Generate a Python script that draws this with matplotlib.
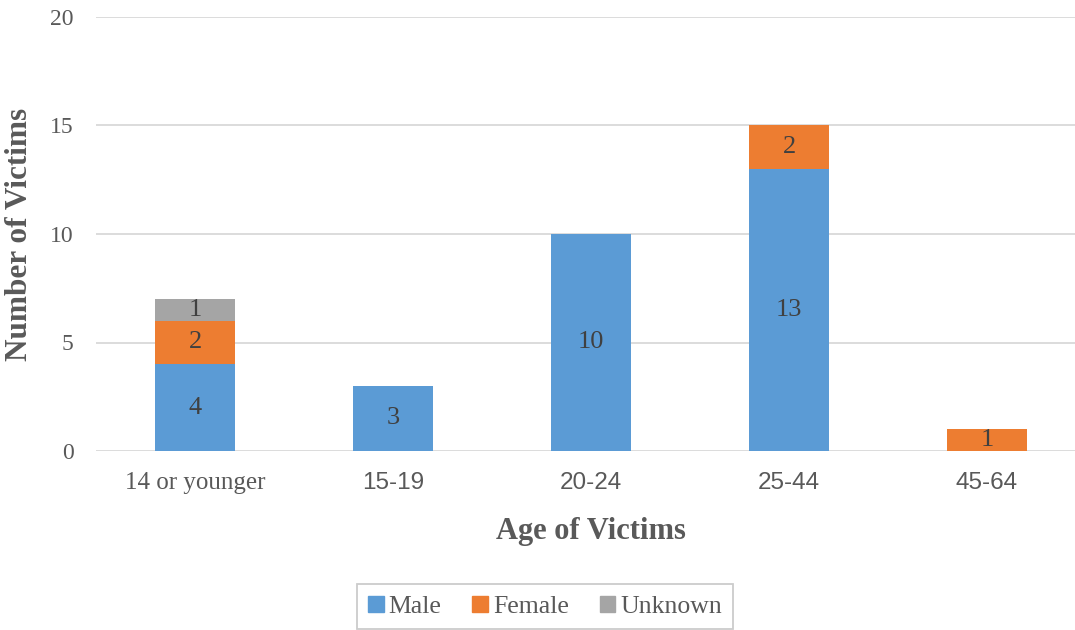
import numpy as np
import matplotlib.pyplot as plt
from matplotlib.patches import Patch

categories = ["14 or younger", "15-19", "20-24", "25-44", "45-64"]
male = [4, 3, 10, 13, 0]
female = [2, 0, 0, 2, 1]
unknown = [1, 0, 0, 0, 0]

series = [("Male", male, "#5B9BD5"), ("Female", female, "#ED7D31"), ("Unknown", unknown, "#A5A5A5")]
text_color = "#595959"
serif = "Liberation Serif"
sans = "Liberation Sans"

fig = plt.figure(figsize=(10.75, 6.3), dpi=100)
ax = fig.add_axes([96 / 1075, 1 - 451 / 630, 990 / 1075, 434 / 630])

x = np.arange(len(categories))
bottom = np.zeros(len(categories))
for name, vals, color in series:
    vals = np.array(vals, dtype=float)
    bars = ax.bar(x, vals, 0.405, bottom=bottom, color=color, label=name, zorder=3)
    for rect, v, b in zip(bars, vals, bottom):
        if v > 0:
            ax.text(rect.get_x() + rect.get_width() / 2, b + v / 2, f"{int(v)}",
                    ha="center", va="center", fontsize=19, color="#404040",
                    family=serif, zorder=4)
    bottom += vals

ax.set_xlim(-0.5, len(categories) - 0.5)
ax.set_ylim(0, 20)
ax.set_yticks([0, 5, 10, 15, 20])
ax.yaxis.grid(True, color="#D9D9D9", linewidth=1.3, zorder=0)
for s in ax.spines.values():
    s.set_visible(False)
ax.tick_params(axis="both", length=0, colors=text_color)
ax.tick_params(axis="y", pad=16, labelsize=17)
ax.tick_params(axis="x", pad=15, labelsize=17.5)
for lab in ax.get_yticklabels():
    lab.set_family(serif)
ax.set_xticks(x)
ax.set_xticklabels(categories)
for i, lab in enumerate(ax.get_xticklabels()):
    if i == 0:
        lab.set_family(serif)
        lab.set_fontsize(18)
    else:
        lab.set_family(sans)

ax.set_xlabel("Age of Victims", fontsize=22, fontweight="bold", color=text_color, family=serif)
ax.set_ylabel("Number of Victims", fontsize=22.5, fontweight="bold", color=text_color, family=serif)
ax.xaxis.set_label_coords(0.5, -0.152)
ax.yaxis.set_label_coords(-0.063, 0.5)

handles = [Patch(color=c, label=n) for n, _, c in series]
leg = fig.legend(handles=handles, loc="upper center", bbox_to_anchor=(545 / 1075, 1 - 584 / 630),
                 ncol=3, frameon=True, fancybox=False, handlelength=0.6, handleheight=0.6,
                 handletextpad=0.2, columnspacing=1.2, prop={"family": serif, "size": 18.5},
                 borderpad=0.45, borderaxespad=0)
leg.get_frame().set_edgecolor("#BFBFBF")
leg.get_frame().set_linewidth(1.3)
for t in leg.get_texts():
    t.set_color(text_color)

fig.savefig("out.png", dpi=100)
